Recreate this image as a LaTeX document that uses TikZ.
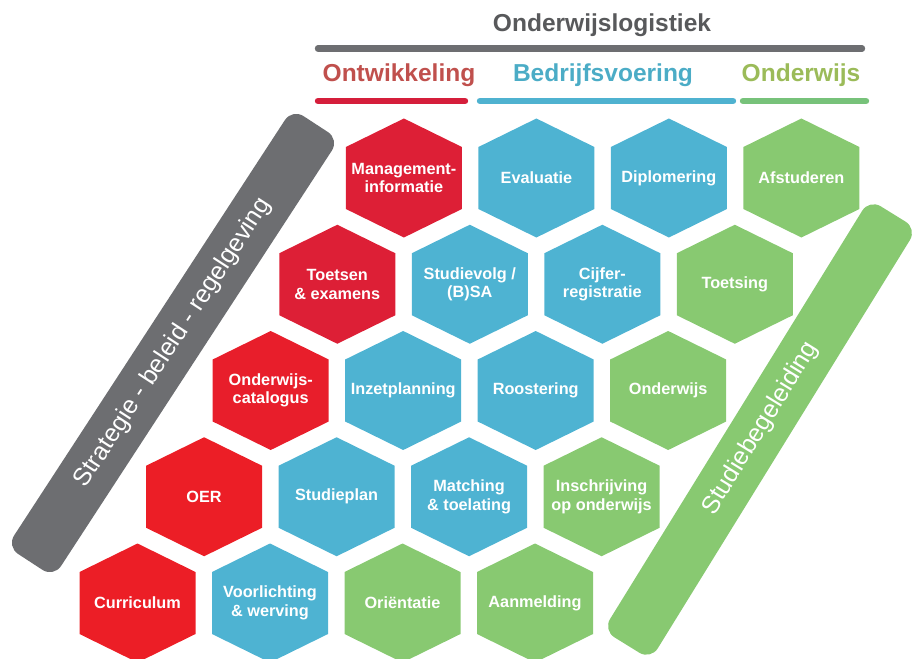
\documentclass[tikz,border=0pt]{standalone}
\usepackage{fontspec}
\setmainfont{Liberation Sans}

\definecolor{hexred}{HTML}{DD1F36}
\definecolor{hexredb}{HTML}{EC1E26}
\definecolor{hexblue}{HTML}{4EB3D2}
\definecolor{hexgreen}{HTML}{88C971}
\definecolor{bandgray}{HTML}{6D6E71}
\definecolor{titlegray}{HTML}{58595B}
\definecolor{ontwred}{HTML}{C0504D}
\definecolor{bedrblue}{HTML}{4BACC6}
\definecolor{ondwgreen}{HTML}{9BBB59}
\definecolor{linered}{HTML}{D51E3B}
\definecolor{lineblue}{HTML}{4FB2D0}
\definecolor{linegreen}{HTML}{77C27A}

\tikzset{
  hexlabel/.style={text=white,align=center,inner sep=0pt,
    font=\fontsize{12.2}{13.9}\selectfont\bfseries},
  head/.style={anchor=base,font=\fontsize{18.4}{22}\selectfont\bfseries},
  band/.style={rounded corners=10pt,minimum height=42pt,inner sep=0pt,
    text=white,font=\fontsize{18.7}{22}\selectfont},
  catline/.style={line width=4.8pt,line cap=round}
}

% one cell of the honeycomb: name, column, row, colour, text
\newcommand{\hexcell}[5]{
  \fill[#4] ({137.5+132.5*#2+66.6*#3},{603-106.25*#3}) ++(0,-59.5) -- ++(58,28.5)
    -- ++(0,62) -- ++(-58,28.5) -- ++(-58,-28.5) -- ++(0,-62) -- cycle;
  \node[hexlabel] (#1) at ({137.5+132.5*#2+66.6*#3},{603-106.25*#3}) {#5};
}

\begin{document}
\begin{tikzpicture}[x=0.75pt,y=-0.75pt]
    \useasboundingbox (0,0) rectangle (916,659);
    \clip (0,0) rectangle (916,659);

    % headings
    \node[head,text=titlegray] (title) at (602,31.7) {Onderwijslogistiek};
    \draw[catline,bandgray] (318,48.5) -- (862,48.5);
    \node[head,text=ontwred] (ontw) at (399,82) {Ontwikkeling};
    \node[head,text=bedrblue] (bedr) at (603,82) {Bedrijfsvoering};
    \node[head,text=ondwgreen] (ondw) at (801,82) {Onderwijs};
    \draw[catline,linered] (318,101) -- (465,101);
    \draw[catline,lineblue] (480,101) -- (733,101);
    \draw[catline,linegreen] (743,101) -- (866,101);

    % side bands
    \node[band,fill=bandgray,minimum width=392pt,rotate=56.9] (strat) at (173,343)
        {Strategie - beleid - regelgeving};
    \node[band,fill=hexgreen,minimum width=380pt,rotate=58.3] (stud) at (760,429.5)
        {\hspace*{2pt}Studiebegeleiding};

    % row 0 (bottom)
    \hexcell{curr}{0}{0}{hexredb}{Curriculum}
    \hexcell{voorl}{1}{0}{hexblue}{Voorlichting\\\& werving}
    \hexcell{orient}{2}{0}{hexgreen}{Oriëntatie}
    \hexcell{aanm}{3}{0}{hexgreen}{Aanmelding}
    % row 1
    \hexcell{oer}{0}{1}{hexredb}{OER}
    \hexcell{stplan}{1}{1}{hexblue}{Studieplan}
    \hexcell{match}{2}{1}{hexblue}{Matching\\\& toelating}
    \hexcell{inschr}{3}{1}{hexgreen}{Inschrijving\\op onderwijs}
    % row 2
    \hexcell{catal}{0}{2}{hexredb!70!hexred}{Onderwijs-\\catalogus}
    \hexcell{inzet}{1}{2}{hexblue}{Inzetplanning}
    \hexcell{roost}{2}{2}{hexblue}{Roostering}
    \hexcell{onderw}{3}{2}{hexgreen}{Onderwijs}
    % row 3
    \hexcell{toets}{0}{3}{hexred}{Toetsen\\\& examens}
    \hexcell{stvolg}{1}{3}{hexblue}{Studievolg /\\(B)SA}
    \hexcell{cijfer}{2}{3}{hexblue}{Cijfer-\\registratie}
    \hexcell{toetsing}{3}{3}{hexgreen}{Toetsing}
    % row 4 (top)
    \hexcell{mgmt}{0}{4}{hexred}{Management-\\informatie}
    \hexcell{eval}{1}{4}{hexblue}{Evaluatie}
    \hexcell{diplo}{2}{4}{hexblue}{Diplomering}
    \hexcell{afst}{3}{4}{hexgreen}{Afstuderen}
\end{tikzpicture}
\end{document}
